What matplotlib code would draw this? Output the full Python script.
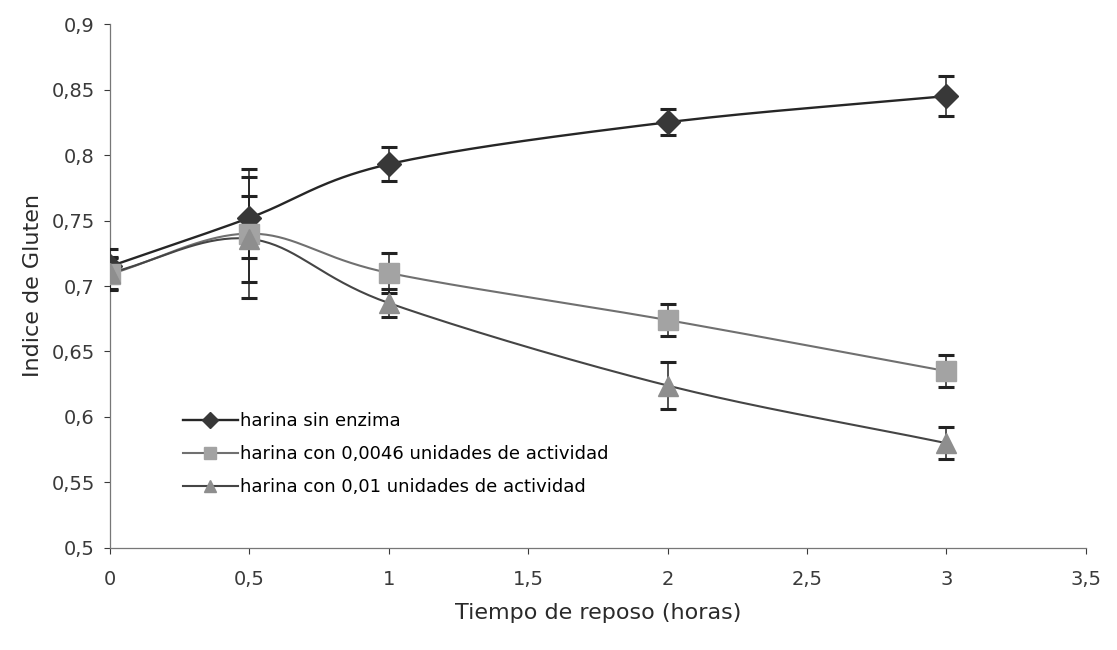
import numpy as np
import matplotlib
matplotlib.use("Agg")
import matplotlib.pyplot as plt
from matplotlib.ticker import FuncFormatter

plt.rcParams['font.family'] = ['DejaVu Sans']

# data
tiempo = [0, 0.5, 1, 2, 3]
sin_enzima = [0.715, 0.752, 0.793, 0.825, 0.845]
sin_enzima_err = [0.013, 0.031, 0.013, 0.010, 0.015]
con_0046 = [0.709, 0.740, 0.710, 0.674, 0.635]
con_0046_err = [0.012, 0.049, 0.015, 0.012, 0.012]
con_001 = [0.710, 0.736, 0.687, 0.624, 0.580]
con_001_err = [0.012, 0.033, 0.011, 0.018, 0.012]
etiquetas = ["harina sin enzima",
             "harina con 0,0046 unidades de actividad",
             "harina con 0,01 unidades de actividad"]


def smooth(x, y, n=40):
    # catmull-rom style smoothing like excel's "smoothed line"
    x = np.asarray(x, float)
    y = np.asarray(y, float)
    px = np.concatenate([[2 * x[0] - x[1]], x, [2 * x[-1] - x[-2]]])
    py = np.concatenate([[2 * y[0] - y[1]], y, [2 * y[-1] - y[-2]]])
    xs, ys = [], []
    for i in range(1, len(px) - 2):
        t = np.linspace(0, 1, n)
        p0, p1, p2, p3 = [np.array([px[j], py[j]]) for j in range(i - 1, i + 3)]
        m1 = (p2 - p0) / 6
        m2 = (p3 - p1) / 6
        b0, b1, b2, b3 = p1, p1 + m1, p2 - m2, p2
        pts = ((1 - t) ** 3)[:, None] * b0 + (3 * (1 - t) ** 2 * t)[:, None] * b1 \
            + (3 * (1 - t) * t ** 2)[:, None] * b2 + (t ** 3)[:, None] * b3
        xs.extend(pts[:, 0])
        ys.extend(pts[:, 1])
    return xs, ys


fig = plt.figure(figsize=(11.17, 6.5), dpi=100)
ax = fig.add_axes([0.0985, 0.157, 0.8735, 0.806])

series = [
    (sin_enzima, sin_enzima_err, 'D', '#262626', '#383838', 1.7, 12, 8),
    (con_0046, con_0046_err, 's', '#707070', '#a3a3a3', 1.5, 15, 9),
    (con_001, con_001_err, '^', '#454545', '#8e8e8e', 1.5, 14, 9),
]

handles = []
for (vals, err, mk, lc, mc, lw, ms, ms_leg), lab in zip(series, etiquetas):
    sx, sy = smooth(tiempo, vals)
    ax.plot(sx, sy, color=lc, lw=lw, zorder=2)
    ax.errorbar(tiempo, vals, yerr=err, fmt='none', ecolor='#222222',
                elinewidth=1.1, capsize=6, capthick=2.2, zorder=3)
    ax.plot(tiempo, vals, linestyle='none', marker=mk, ms=ms,
            markerfacecolor=mc, markeredgecolor=mc, zorder=4)
    h, = ax.plot([], [], color=lc, lw=lw, marker=mk, ms=ms_leg,
                 markerfacecolor=mc, markeredgecolor=mc)
    handles.append((h, lab))

ax.set_xlim(0, 3.5)
ax.set_ylim(0.5, 0.9)
ax.set_xticks(np.arange(0, 3.51, 0.5))
ax.set_yticks(np.arange(0.5, 0.901, 0.05))
fmt = FuncFormatter(lambda v, p: ('%g' % round(v, 3)).replace('.', ','))
ax.xaxis.set_major_formatter(fmt)
ax.yaxis.set_major_formatter(fmt)
ax.tick_params(labelsize=14, colors='#3a3a3a', length=4, width=0.8)
ax.tick_params(axis='x', pad=12)
ax.tick_params(axis='y', pad=7)

for s in ['top', 'right']:
    ax.spines[s].set_visible(False)
for s in ['left', 'bottom']:
    ax.spines[s].set_color('#777777')
    ax.spines[s].set_linewidth(0.9)

ax.set_xlabel('Tiempo de reposo (horas)', fontsize=16, color='#2a2a2a', labelpad=10)
ax.set_ylabel('Indice de Gluten', fontsize=16, color='#2a2a2a', labelpad=6)

ax.legend([h for h, _ in handles], [l for _, l in handles], loc='upper left',
          bbox_to_anchor=(0.067, 0.273), frameon=False, fontsize=13,
          handlelength=3.05, handletextpad=0.15, labelspacing=0.83,
          borderaxespad=0)

fig.savefig('out.png', dpi=100, facecolor='white')
